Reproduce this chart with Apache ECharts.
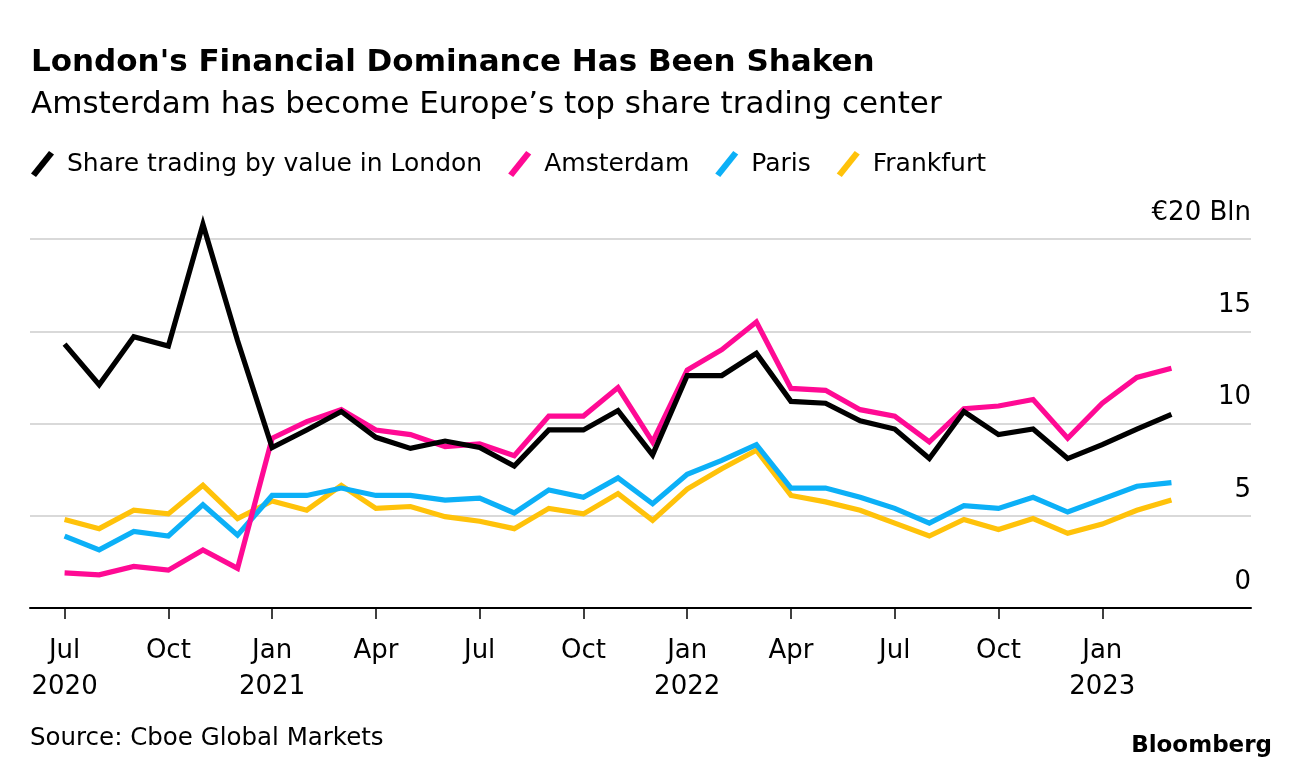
<!DOCTYPE html>
<html>
<head>
<meta charset="utf-8">
<script src="https://cdn.jsdelivr.net/npm/echarts@6/dist/echarts.min.js"></script>
<style>
html,body{margin:0;padding:0;background:#fff;}
#chart{width:1296px;height:778px;}
</style>
</head>
<body>
<div id="chart"></div>
<script>
// Monthly categories: Jul 2020 .. Mar 2023
const categories = ['2020-07','2020-08','2020-09','2020-10','2020-11','2020-12',
  '2021-01','2021-02','2021-03','2021-04','2021-05','2021-06','2021-07','2021-08','2021-09','2021-10','2021-11','2021-12',
  '2022-01','2022-02','2022-03','2022-04','2022-05','2022-06','2022-07','2022-08','2022-09','2022-10','2022-11','2022-12',
  '2023-01','2023-02','2023-03'];

// Share trading by value, € billion
const london = [14.3,12.1,14.7,14.2,20.8,14.5,8.7,9.65,10.65,9.25,8.65,9.05,8.7,7.7,9.65,9.65,10.7,8.3,
  12.6,12.6,13.8,11.2,11.1,10.15,9.7,8.1,10.65,9.4,9.7,8.1,8.85,9.7,10.5];
const amsterdam = [1.9,1.8,2.25,2.05,3.15,2.15,9.2,10.1,10.75,9.65,9.4,8.75,8.9,8.25,10.4,10.4,11.95,9.0,
  12.9,14.0,15.5,11.9,11.8,10.75,10.4,9.0,10.8,10.95,11.3,9.2,11.1,12.5,13.0];
const paris = [3.9,3.15,4.15,3.9,5.6,3.95,6.1,6.1,6.5,6.1,6.1,5.85,5.95,5.15,6.4,6.0,7.05,5.65,
  7.25,8.0,8.85,6.5,6.5,6.0,5.4,4.6,5.55,5.4,6.0,5.2,5.9,6.6,6.8];
const frankfurt = [4.8,4.3,5.3,5.1,6.65,4.85,5.8,5.3,6.65,5.4,5.5,4.95,4.7,4.3,5.4,5.1,6.2,4.75,
  6.45,7.55,8.55,6.1,5.75,5.3,4.6,3.9,4.8,4.25,4.85,4.05,4.55,5.3,5.85];

const seriesNames = ['Share trading by value in London','Amsterdam','Paris','Frankfurt'];
const colors = ['#000000','#ff0a94','#0cb0f7','#ffc20a'];

// x tick positions (index into categories) and their labels
const tickIndex = [0,3,6,9,12,15,18,21,24,27,30];
const tickLabels = ['Jul\n2020','Oct','Jan\n2021','Apr','Jul','Oct','Jan\n2022','Apr','Jul','Oct','Jan\n2023'];

const yTicks = [0,5,10,15,20];
const yLabels = ['0','5','10','15','€20 Bln'];

const FONT = 'DejaVu Sans';
const chart = echarts.init(document.getElementById('chart'), null, {renderer:'canvas'});

const allData = [london, amsterdam, paris, frankfurt];
const zs = [5,4,3,2];
const series = allData.map((arr, k) => ({
  name: seriesNames[k],
  type: 'line',
  data: arr.map((v, i) => [i, v]),
  showSymbol: false,
  symbol: 'none',
  clip: false,
  z: zs[k],
  lineStyle: { color: colors[k], width: 5.2, join: 'miter', cap: 'butt' },
  itemStyle: { color: colors[k] },
  emphasis: { disabled: true },
  animation: false
}));

const slash = 'path://M18,0 L23,3.5 L5,26 L0,22.5 Z';

chart.setOption({
  backgroundColor: '#ffffff',
  animation: false,
  title: {
    text: "London's Financial Dominance Has Been Shaken",
    subtext: 'Amsterdam has become Europe’s top share trading center',
    left: 26, top: 42,
    itemGap: 11,
    textStyle: { fontFamily: FONT, fontSize: 31, fontWeight: 'bold', color: '#000' },
    subtextStyle: { fontFamily: FONT, fontSize: 31, color: '#000' }
  },
  legend: {
    data: seriesNames,
    left: 26, top: 146,
    itemWidth: 23, itemHeight: 26,
    itemGap: 26,
    icon: slash,
    textStyle: { fontFamily: FONT, fontSize: 25, color: '#000', padding: [0,0,0,8] },
    selectedMode: false
  },
  grid: { left: 30, right: 45, top: 239, bottom: 170, containLabel: false },
  xAxis: {
    type: 'value',
    min: -1,
    max: 34.3,
    splitLine: { show: false },
    axisLine: { show: true, onZero: false, lineStyle: { color: '#000', width: 2 } },
    axisTick: { show: true, customValues: tickIndex, length: 11, lineStyle: { color: '#000', width: 1.5 } },
    axisLabel: {
      customValues: tickIndex,
      formatter: v => tickLabels[tickIndex.indexOf(Math.round(v))] || '',
      fontFamily: FONT, fontSize: 26, color: '#000', lineHeight: 36, margin: 25,
      showMinLabel: true, showMaxLabel: true
    }
  },
  yAxis: {
    type: 'value',
    position: 'right',
    min: 0, max: 20, interval: 5,
    axisLine: { show: false },
    axisTick: { show: false },
    splitLine: { show: true, lineStyle: { color: '#d9d9d9', width: 2 } },
    axisLabel: {
      inside: true,
      margin: 0,
      verticalAlign: 'bottom',
      padding: [0,0,13,0],
      formatter: v => yLabels[yTicks.indexOf(v)],
      fontFamily: FONT, fontSize: 26, color: '#000'
    }
  },
  graphic: [
    { type: 'text', left: 30, top: 726, style: { text: 'Source: Cboe Global Markets', fontFamily: FONT, fontSize: 24.5, fill: '#000' } },
    { type: 'text', right: 24, top: 735, style: { text: 'Bloomberg', fontFamily: FONT, fontSize: 23, fontWeight: 'bold', fill: '#000' } }
  ],
  series: series
});
</script>
</body>
</html>
